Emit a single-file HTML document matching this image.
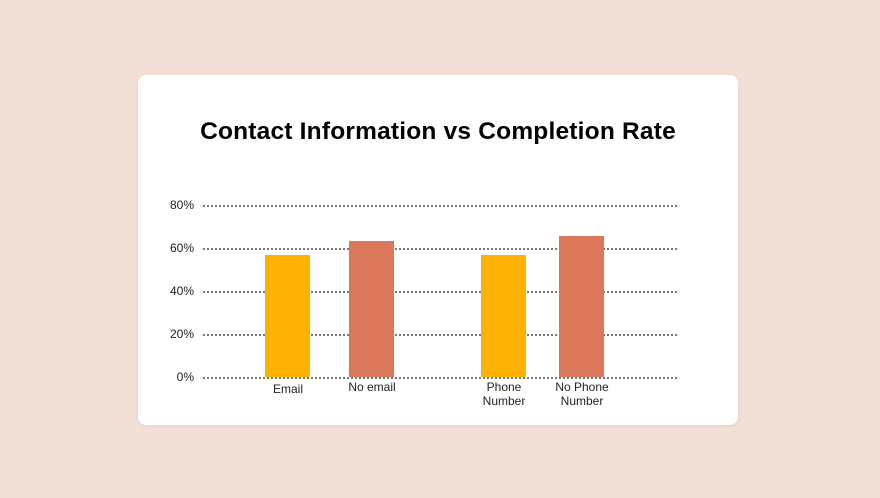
<!DOCTYPE html>
<html><head><style>
body{margin:0;width:880px;height:498px;background:#f2dfd6;font-family:"Liberation Sans",sans-serif;overflow:hidden}
.card{position:absolute;left:138px;top:75px;width:600px;height:350px;background:#fff;border-radius:8px;box-shadow:0 1px 3px rgba(0,0,0,.08)}
.title{position:absolute;left:138px;top:118px;width:600px;text-align:center;font-weight:bold;font-size:24.5px;color:#000;letter-spacing:0.2px}
.g{position:absolute;left:203px;width:474px;border-top:2px dotted #777;height:0}
.yl{position:absolute;left:150px;width:44px;text-align:right;font-size:12px;color:#222}
.b{position:absolute;width:45px}
.xl{position:absolute;width:90px;text-align:center;font-size:12px;color:#222;line-height:14px}
</style></head><body>
<div class="card"></div>
<div class="title">Contact Information vs Completion Rate</div>
<div class="g" style="top:205px"></div><div class="yl" style="top:198px">80%</div>
<div class="g" style="top:248px"></div><div class="yl" style="top:241px">60%</div>
<div class="g" style="top:291px"></div><div class="yl" style="top:284px">40%</div>
<div class="g" style="top:334px"></div><div class="yl" style="top:327px">20%</div>
<div class="yl" style="top:370px">0%</div>
<div class="b" style="left:265px;top:255px;height:122px;background:#ffb205"></div>
<div class="b" style="left:349px;top:241px;height:136px;background:#db785c"></div>
<div class="b" style="left:481px;top:255px;height:122px;background:#ffb205"></div>
<div class="b" style="left:559px;top:236px;height:141px;background:#db785c"></div>
<div class="g" style="top:377px"></div>
<div class="xl" style="left:243px;top:382px">Email</div>
<div class="xl" style="left:327px;top:380px">No email</div>
<div class="xl" style="left:459px;top:380px">Phone<br>Number</div>
<div class="xl" style="left:537px;top:380px">No Phone<br>Number</div>
</body></html>
